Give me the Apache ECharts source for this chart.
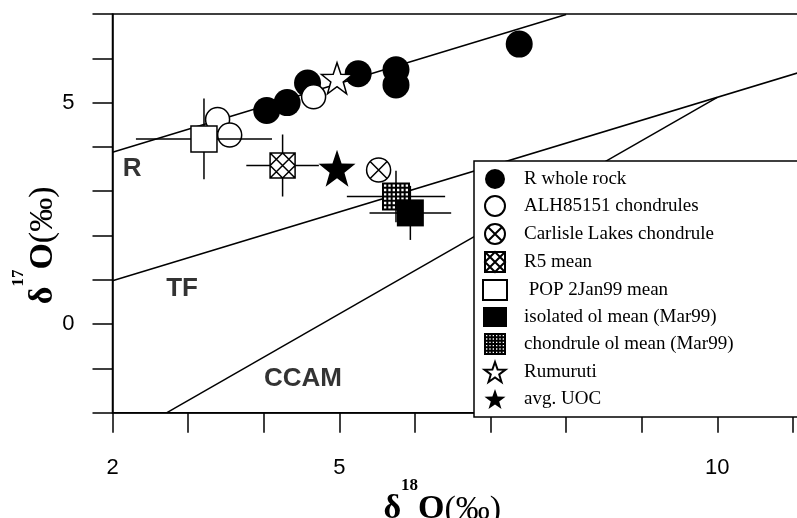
<!DOCTYPE html>
<html>
<head>
<meta charset="utf-8">
<script src="https://cdn.jsdelivr.net/npm/echarts@6/dist/echarts.min.js"></script>
<style>html,body{margin:0;padding:0;background:#fff}#c{width:797px;height:518px}</style>
</head>
<body>
<div id="c"></div>
<script>
// ---- data ----
const xTickLabels = [2, 5, 10];
const yTickLabels = [0, 5];
const rWholeRock = [[4.04,4.82],[4.31,5.00],[4.58,5.44],[5.25,5.65],[5.75,5.74],[5.75,5.40],[7.38,6.32]];
const alhChondrules = [[3.39,4.62],[3.55,4.27],[4.66,5.13]];
const carlisleLakes = [[5.52,3.48]];
const r5Mean = [[4.25,3.58]];
const popMean = [[3.21,4.18]];
const isolatedOl = [[5.94,2.51]];
const chondruleOl = [[5.75,2.88]];
const rumuruti = [[4.97,5.55]];
const avgUOC = [[4.97,3.52]];
// error bars: [x, y, xErr, yErr]
const errorBars = [[3.21,4.18,0.90,0.91],[4.25,3.58,0.48,0.70],[5.75,2.88,0.65,0.58],[5.94,2.51,0.54,0.61]];
// reference lines (endpoints)
const lineR = [[2,3.88],[8.0,6.99]];
const lineTF = [[2,0.98],[11.2,5.74]];
const lineCCAM = [[2.72,-2],[10,5.12]];
const lineLabels = [['R',2.26,3.5],['TF',2.92,0.79],['CCAM',4.52,-1.24]];

// ---- symbols ----
function starPath(){
  let s='path://';
  for(let i=0;i<10;i++){
    const r = i%2===0?50:20;
    const a = -Math.PI/2 + i*Math.PI/5;
    const x = (50 + r*Math.cos(a)).toFixed(2), y = (50 + r*Math.sin(a)).toFixed(2);
    s += (i===0?'M':'L') + x + ',' + y + ' ';
  }
  return s+'Z';
}
const STAR = starPath();
const CIRCLE_X = 'path://M0,10 A10,10 0 1,1 20,10 A10,10 0 1,1 0,10 Z M2.93,2.93 L17.07,17.07 M17.07,2.93 L2.93,17.07';
const SQUARE_X = 'path://M0,0 L20,0 L20,20 L0,20 Z M0,0 L20,20 M20,0 L0,20 M10,0 L20,10 L10,20 L0,10 Z';
let grid = 'path://M0,0 L20,0 L20,20 L0,20 Z';
for(let i=1;i<6;i++){ const p=(i*20/6).toFixed(2); grid += ' M'+p+',0 L'+p+',20 M0,'+p+' L20,'+p; }
const GRID_SQ = grid;

const black='#000';
function lineSeries(data){
  return {type:'line', data:data, symbol:'none', silent:true, z:1, lineStyle:{color:black,width:1.5}};
}
const serifFam = '"Liberation Serif","Times New Roman",serif';
const sansFam = '"Liberation Sans",Arial,sans-serif';
const nameRich = {
  d:{fontFamily:serifFam,fontWeight:'bold',fontSize:34,lineHeight:50,verticalAlign:'bottom',color:black},
  s:{fontFamily:serifFam,fontWeight:'bold',fontSize:17,lineHeight:17,verticalAlign:'top',color:black},
  o:{fontFamily:serifFam,fontWeight:'bold',fontSize:34,lineHeight:50,verticalAlign:'bottom',color:black},
  p:{fontFamily:serifFam,fontSize:34,lineHeight:50,verticalAlign:'bottom',color:black}
};

const chart = echarts.init(document.getElementById('c'), null, {renderer:'canvas'});
const option = {
  animation:false,
  backgroundColor:'#fff',
  grid:{left:112.5, top:14, width:695.5, height:398.7, show:true, borderColor:black, borderWidth:1.5,
        outerBoundsMode:'none', containLabel:false},
  xAxis:{
    type:'value', min:2, max:11.2, interval:1,
    axisLine:{onZero:false, lineStyle:{color:black,width:1.5}},
    axisTick:{length:20, lineStyle:{color:black,width:1.5}},
    splitLine:{show:false},
    axisLabel:{margin:44, fontSize:22, color:black, fontFamily:sansFam,
      formatter:v=>xTickLabels.indexOf(v)>=0?String(v):''},
    name:'{d|δ}{s|18}{o|O}{p|(‰)}', nameLocation:'middle', nameGap:64, nameMoveOverlap:false,
    nameTextStyle:{rich:nameRich, padding:[0,36,0,0]}
  },
  yAxis:{
    type:'value', min:-2, max:7, interval:1,
    axisLine:{onZero:false, lineStyle:{color:black,width:1.5}},
    axisTick:{length:20, lineStyle:{color:black,width:1.5}},
    splitLine:{show:false},
    axisLabel:{margin:38, fontSize:22, color:black, fontFamily:sansFam, padding:[6,0,0,0],
      formatter:v=>yTickLabels.indexOf(v)>=0?String(v):''},
    name:'{d|δ}{s|17}{o|O}{p|(‰)}', nameLocation:'middle', nameGap:52, nameMoveOverlap:false,
    nameTextStyle:{rich:nameRich, padding:[0,64,0,0]}
  },
  legend:{
    orient:'vertical', left:474, top:161, z:10,
    padding:[8,220,8,8], itemGap:6, itemWidth:24, itemHeight:20,
    backgroundColor:'#fff', borderColor:black, borderWidth:1.5,
    selectedMode:false,
    textStyle:{fontFamily:serifFam, fontSize:19, color:black, padding:[0,0,0,12]},
    formatter:n=> n==='POP 2Jan99 mean' ? ' '+n : n,
    data:['R whole rock','ALH85151 chondrules','Carlisle Lakes chondrule','R5 mean','POP 2Jan99 mean','isolated ol mean (Mar99)','chondrule ol mean (Mar99)','Rumuruti','avg. UOC']
  },
  series:[
    lineSeries(lineR), lineSeries(lineTF), lineSeries(lineCCAM),
    {type:'scatter', name:'labels', silent:true, z:1, symbolSize:0,
     data:lineLabels.map(d=>({name:d[0], value:[d[1],d[2]]})),
     label:{show:true, position:'inside', formatter:p=>p.name, fontFamily:sansFam, fontWeight:'bold', fontSize:26, color:black}},
    {type:'scatter', name:'R whole rock', data:rWholeRock, symbol:'circle', symbolSize:27, z:2,
     itemStyle:{color:black, borderColor:black, borderWidth:0, opacity:1}},
    {type:'scatter', name:'ALH85151 chondrules', data:alhChondrules, symbol:'circle', symbolSize:24, z:2,
     itemStyle:{color:'#fff', borderColor:black, borderWidth:1.5, opacity:1}},
    {type:'scatter', name:'Carlisle Lakes chondrule', data:carlisleLakes, symbol:CIRCLE_X, symbolSize:24, z:2,
     itemStyle:{color:'#fff', borderColor:black, borderWidth:1.5, opacity:1}},
    {type:'custom', name:'errors', silent:true, z:3, data:errorBars,
     renderItem:function(params, api){
       const x=api.value(0), y=api.value(1), ex=api.value(2), ey=api.value(3);
       const a=api.coord([x-ex,y]), b=api.coord([x+ex,y]), c=api.coord([x,y-ey]), d=api.coord([x,y+ey]);
       const st={stroke:black, lineWidth:1.5};
       return {type:'group', children:[
         {type:'line', shape:{x1:a[0],y1:a[1],x2:b[0],y2:b[1]}, style:st},
         {type:'line', shape:{x1:c[0],y1:c[1],x2:d[0],y2:d[1]}, style:st}
       ]};
     }},
    {type:'scatter', name:'R5 mean', data:r5Mean, symbol:SQUARE_X, symbolSize:25, z:4,
     itemStyle:{color:'#fff', borderColor:black, borderWidth:1.5, opacity:1}},
    {type:'scatter', name:'POP 2Jan99 mean', data:popMean, symbol:'rect', symbolSize:26, z:4,
     itemStyle:{color:'#fff', borderColor:black, borderWidth:1.5, opacity:1}},
    {type:'scatter', name:'chondrule ol mean (Mar99)', data:chondruleOl, symbol:GRID_SQ, symbolSize:26, z:4,
     itemStyle:{color:'#fff', borderColor:black, borderWidth:2, opacity:1}},
    {type:'scatter', name:'isolated ol mean (Mar99)', data:isolatedOl, symbol:'rect', symbolSize:27, z:4,
     itemStyle:{color:black, borderColor:black, borderWidth:0, opacity:1}},
    {type:'scatter', name:'Rumuruti', data:rumuruti, symbol:STAR, symbolSize:31, z:4,
     itemStyle:{color:'#fff', borderColor:black, borderWidth:1.5, opacity:1}},
    {type:'scatter', name:'avg. UOC', data:avgUOC, symbol:STAR, symbolSize:37, z:4,
     itemStyle:{color:black, borderColor:black, borderWidth:0, opacity:1}}
  ]
};
chart.setOption(option);
</script>
</body>
</html>
